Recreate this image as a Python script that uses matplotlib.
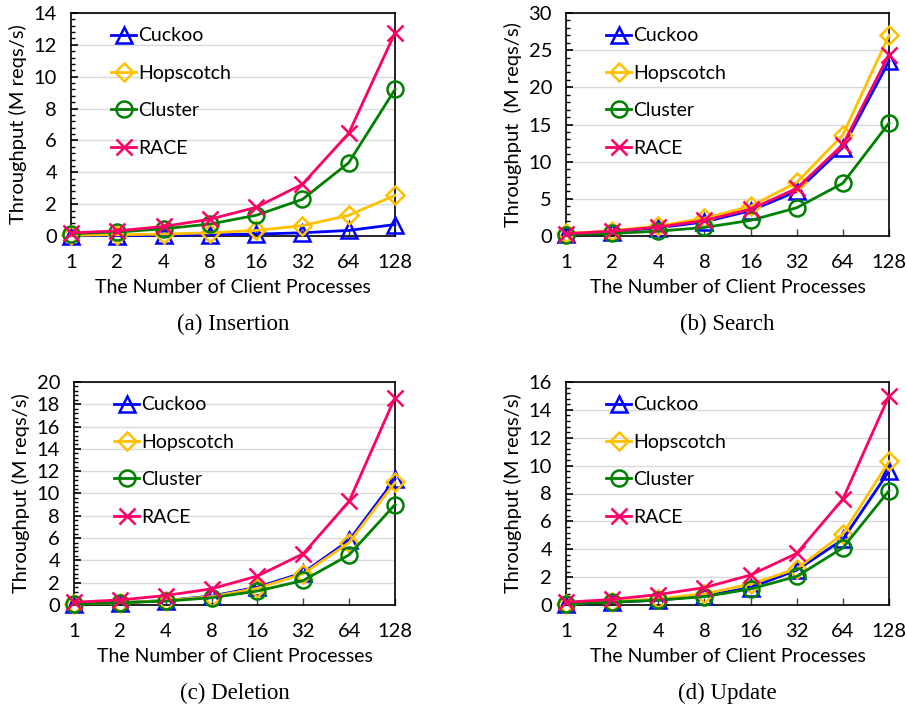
import matplotlib
matplotlib.use("Agg")
import matplotlib.pyplot as plt
from matplotlib.ticker import AutoMinorLocator, MultipleLocator

plt.rcParams["font.family"] = ["Lato", "DejaVu Sans"]

# x categories
clients = ["1", "2", "4", "8", "16", "32", "64", "128"]
series_names = ["Cuckoo", "Hopscotch", "Cluster", "RACE"]

# (a) Insertion
ins_cuckoo = [0.02, 0.03, 0.05, 0.08, 0.12, 0.2, 0.35, 0.72]
ins_hopscotch = [0.05, 0.08, 0.12, 0.2, 0.35, 0.65, 1.3, 2.55]
ins_cluster = [0.15, 0.25, 0.45, 0.75, 1.3, 2.3, 4.6, 9.2]
ins_race = [0.2, 0.32, 0.6, 1.05, 1.8, 3.25, 6.45, 12.75]

# (b) Search
sea_cuckoo = [0.3, 0.6, 1.1, 1.9, 3.4, 6.0, 11.9, 23.5]
sea_hopscotch = [0.35, 0.7, 1.35, 2.4, 4.0, 7.2, 13.6, 27.0]
sea_cluster = [0.2, 0.35, 0.65, 1.15, 2.1, 3.8, 7.1, 15.2]
sea_race = [0.3, 0.65, 1.2, 2.1, 3.6, 6.4, 12.3, 24.4]

# (c) Deletion
del_cuckoo = [0.1, 0.2, 0.4, 0.8, 1.6, 2.9, 5.8, 11.3]
del_hopscotch = [0.1, 0.2, 0.4, 0.75, 1.5, 2.8, 5.6, 11.0]
del_cluster = [0.1, 0.2, 0.35, 0.65, 1.25, 2.2, 4.5, 9.0]
del_race = [0.25, 0.45, 0.85, 1.45, 2.6, 4.6, 9.3, 18.6]

# (d) Update
upd_cuckoo = [0.1, 0.2, 0.35, 0.65, 1.25, 2.5, 4.7, 9.6]
upd_hopscotch = [0.1, 0.25, 0.45, 0.8, 1.5, 2.6, 5.1, 10.3]
upd_cluster = [0.1, 0.2, 0.35, 0.6, 1.15, 2.05, 4.1, 8.2]
upd_race = [0.2, 0.4, 0.75, 1.25, 2.15, 3.7, 7.6, 15.0]

styles = [
    dict(color="#0000FF", marker="^", mfc="none"),
    dict(color="#FFC000", marker="D", mfc="none", markersize=9.5),
    dict(color="#008000", marker="o", mfc="none"),
    dict(color="#FF0066", marker="x"),
]

panels = [
    ("(a) Insertion", [ins_cuckoo, ins_hopscotch, ins_cluster, ins_race], 14, 2,
     "Throughput (M reqs/s)", [71, 13, 395, 236]),
    ("(b) Search", [sea_cuckoo, sea_hopscotch, sea_cluster, sea_race], 30, 5,
     "Throughput  (M reqs/s)", [566, 13, 889, 236]),
    ("(c) Deletion", [del_cuckoo, del_hopscotch, del_cluster, del_race], 20, 2,
     "Throughput (M reqs/s)", [74, 382, 395, 605]),
    ("(d) Update", [upd_cuckoo, upd_hopscotch, upd_cluster, upd_race], 16, 2,
     "Throughput (M reqs/s)", [566, 382, 889, 605]),
]

W, H = 907, 710
fig = plt.figure(figsize=(W / 100, H / 100), dpi=100)

for caption, data, ymax, ystep, ylabel, (x0, y0, x1, y1) in panels:
    ax = fig.add_axes([x0 / W, 1 - y1 / H, (x1 - x0) / W, (y1 - y0) / H])
    xs = range(len(clients))
    for name, vals, st in zip(series_names, data, styles):
        kw = dict(st)
        ms = kw.pop("markersize", 11.5)
        ax.plot(xs, vals, label=name, lw=2, markersize=ms, markeredgewidth=1.8,
                clip_on=False, zorder=3, **kw)
    ax.set_xlim(0, len(clients) - 1)
    ax.set_ylim(0, ymax)
    ax.set_xticks(list(xs))
    ax.set_xticklabels(clients)
    ax.yaxis.set_major_locator(MultipleLocator(ystep))
    ax.yaxis.set_minor_locator(AutoMinorLocator(5))
    ax.grid(axis="y", color="#d9d9d9", lw=1)
    ax.set_axisbelow(True)
    ax.tick_params(axis="y", which="major", direction="in", length=5, width=1.2,
                   labelsize=14.5, pad=10)
    ax.tick_params(axis="y", which="minor", direction="in", length=3, width=1)
    ax.tick_params(axis="x", direction="in", length=5, width=1, color="#404040",
                   labelsize=14.5, pad=13)
    for sp in ax.spines.values():
        sp.set_color("black")
        sp.set_linewidth(1.2)
    ax.set_ylabel(ylabel, fontsize=14.5, labelpad=5)
    ax.set_xlabel("The Number of Client Processes", fontsize=14, labelpad=6)
    ax.legend(loc="upper left", bbox_to_anchor=(0.1, 0.97), frameon=False,
              fontsize=14, handlelength=1.3, handletextpad=0.1,
              labelspacing=1.05, borderaxespad=0)
    xc = (x0 + x1) / 2 / W
    fig.text(xc, 1 - (y1 + 88) / H, caption, ha="center", va="center",
             fontsize=16.5, family=["Liberation Serif", "DejaVu Serif"])

fig.savefig("out.png", dpi=100)
